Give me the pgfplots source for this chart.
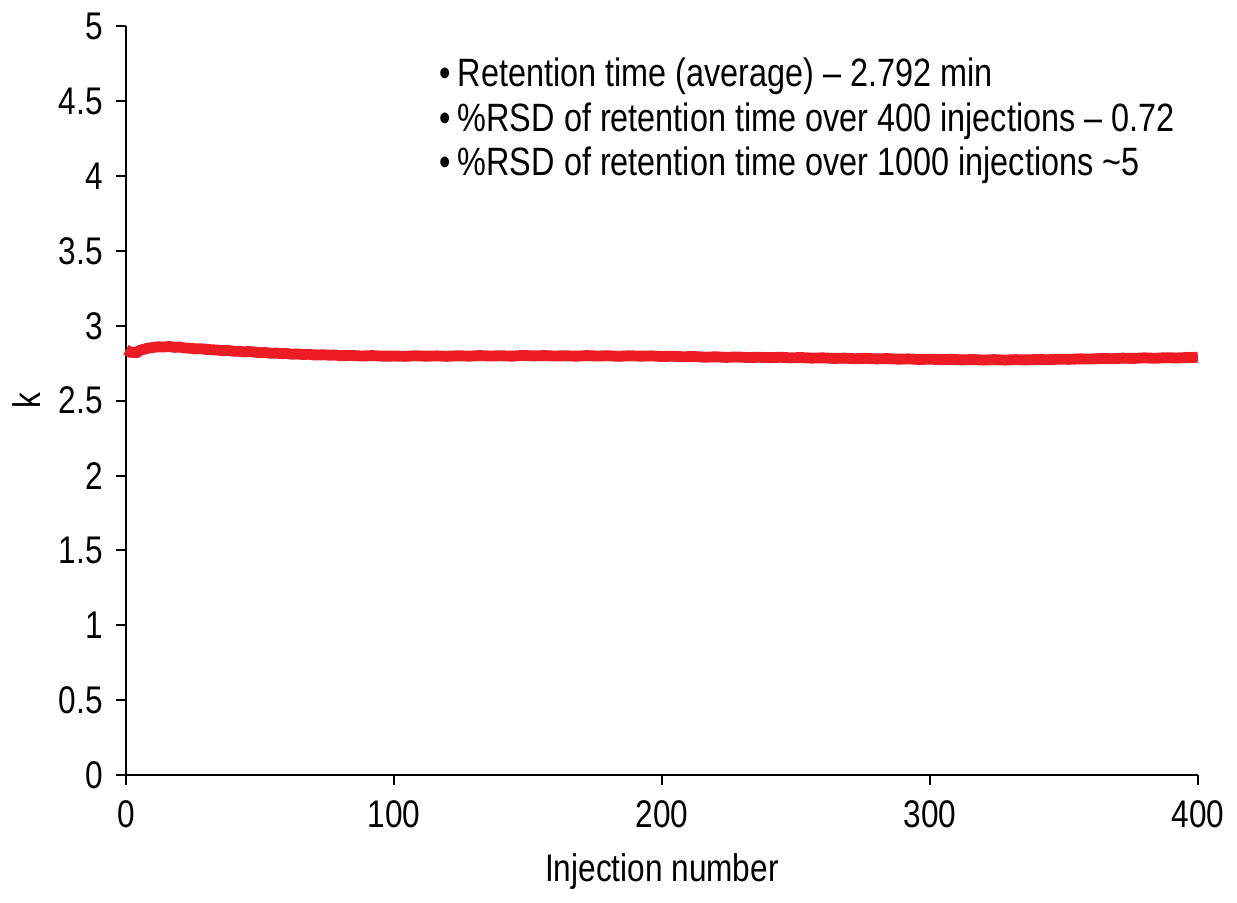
\documentclass[border=0pt]{standalone}
\usepackage{pgfplots}
\pgfplotsset{compat=1.18}
\usepackage{fontspec}
\setmainfont{Liberation Sans}[FakeStretch=0.82]
\definecolor{lred}{RGB}{237,28,36}
\begin{document}
\fontsize{19.5}{23}\selectfont
\begin{tikzpicture}
\begin{axis}[
  scale only axis,
  width=542.5pt, height=379pt,
  xmin=0, xmax=400, ymin=0, ymax=5,
  axis lines=left,
  axis line style={-, line width=1pt},
  xtick={0,100,...,400},
  ytick={0,0.5,...,5},
  yticklabels={0,0.5,1,1.5,2,2.5,3,3.5,4,4.5,5},
  tick align=outside,
  major tick length=5pt,
  tick style={line width=1pt, black},
  /pgf/number format/assume math mode=true,
  ticklabel style={font=\fontsize{19.5}{23}\selectfont},
  xticklabel style={yshift=-1pt},
  xlabel={Injection number},
  ylabel={k},
  label style={font=\fontsize{19.5}{23}\selectfont},
  xlabel style={yshift=0pt},
  ylabel style={yshift=-4pt},
  clip=false,
]
\addplot[lred, line width=5.5pt, line join=round] coordinates {
(0,2.84)(1,2.83)(2,2.82)(3,2.825)(4,2.82)(5,2.835)(6,2.84)(8,2.85)(10,2.855)(12,2.86)(14,2.858)(16,2.862)(18,2.856)(20,2.858)
(22,2.852)(24,2.85)(26,2.846)(28,2.847)(30,2.842)(32,2.84)(34,2.838)(36,2.834)(38,2.836)(40,2.83)(42,2.83)(44,2.826)(46,2.828)
(48,2.824)(50,2.82)(52,2.822)(54,2.816)(56,2.818)(58,2.814)(60,2.815)(62,2.81)(64,2.812)(66,2.808)(68,2.81)(70,2.806)(72,2.805)
(74,2.807)(76,2.803)(78,2.805)(80,2.8)(84,2.802)(88,2.798)(92,2.801)(96,2.797)(100,2.798)(104,2.796)(108,2.8)(112,2.797)
(116,2.799)(120,2.796)(124,2.8)(128,2.797)(132,2.801)(136,2.798)(140,2.8)(144,2.797)(148,2.802)(152,2.799)(156,2.801)(160,2.798)
(164,2.8)(168,2.797)(172,2.801)(176,2.798)(180,2.8)(184,2.796)(188,2.8)(192,2.797)(196,2.799)(200,2.795)(204,2.797)(208,2.793)
(212,2.795)(216,2.79)(220,2.793)(224,2.789)(228,2.792)(232,2.788)(236,2.79)(240,2.787)(244,2.79)(248,2.786)(252,2.788)
(256,2.784)(260,2.786)(264,2.782)(268,2.784)(272,2.78)(276,2.783)(280,2.779)(284,2.781)(288,2.777)(292,2.779)(296,2.775)
(300,2.777)(304,2.774)(308,2.776)(312,2.772)(316,2.775)(320,2.771)(324,2.774)(328,2.771)(332,2.774)(336,2.772)(340,2.775)
(344,2.773)(348,2.777)(352,2.776)(356,2.779)(360,2.778)(364,2.782)(368,2.78)(372,2.784)(376,2.782)(380,2.786)(384,2.783)
(388,2.787)(392,2.785)(396,2.788)(400,2.79)
};
\node[anchor=north west, align=left, inner sep=0pt, font=\fontsize{20}{22.5}\selectfont]
  at (axis cs:117,4.79)
  {\textbullet\,Retention time (average) -- 2.792 min\\
   \textbullet\,\%RSD of retention time over 400 injections -- 0.72\\
   \textbullet\,\%RSD of retention time over 1000 injections \textasciitilde 5};
\end{axis}
\end{tikzpicture}
\end{document}
